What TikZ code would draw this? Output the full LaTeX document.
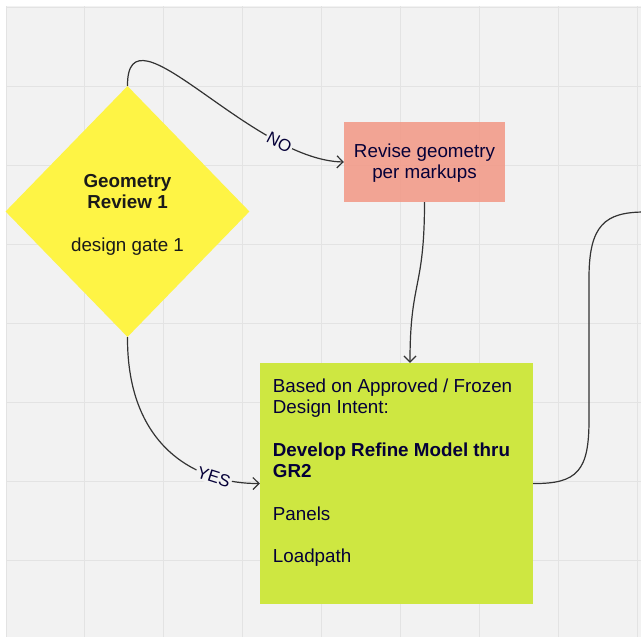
\documentclass[tikz,border=0pt]{standalone}
\usepackage{fontspec}
\setmainfont{Liberation Sans}
\usetikzlibrary{shapes.geometric,arrows.meta}
\definecolor{boardbg}{HTML}{F2F2F2}
\definecolor{boardline}{HTML}{E3E3E3}
\definecolor{gateyellow}{HTML}{FEF445}
\definecolor{revisered}{HTML}{F29C8A}
\definecolor{refinegreen}{HTML}{CEE741}
\definecolor{inkblue}{HTML}{050038}
\definecolor{inkgray}{HTML}{1A1A1A}
\definecolor{linkgray}{HTML}{333333}
\begin{document}
\begin{tikzpicture}[x=1pt, y=-1pt, font=\fontsize{18.8}{21.3}\selectfont,
  gate/.style={diamond, fill=gateyellow, aspect=1, inner sep=0pt, minimum width=244pt, minimum height=251pt, align=center, text=inkgray},
  revise/.style={rectangle, fill=revisered, fill opacity=0.9, text opacity=1, minimum width=161pt, minimum height=80pt, align=center, text=inkblue},
  refine/.style={rectangle, fill=refinegreen, minimum width=273pt, minimum height=241pt},
  link/.style={draw=linkgray, line width=1.2pt},
  flow/.style={link, -{Straight Barb[length=6pt, width=12pt]}},
  answer/.style={font=\fontsize{17}{17}\selectfont, text=inkblue, fill=boardbg, inner sep=1.5pt, sloped}]
\useasboundingbox (0,0) rectangle (641,637);
% board
\fill[white] (0,0) rectangle (641,637);
\fill[boardbg] (6,6) rectangle (641,637);
\foreach \gx in {0,...,8} \draw[boardline, line width=0.9pt] ({6+78.9*\gx},6) -- ({6+78.9*\gx},637);
\foreach \gy in {0,...,7} \draw[boardline, line width=0.9pt] (6,{7+79*\gy}) -- (641,{7+79*\gy});
% shapes
\node[gate] (gate) at (127.5,211.5) {\rule{0pt}{19pt}\textbf{Geometry}\\\textbf{Review 1}\\[21.3pt]design gate 1};
\node[revise] (revise) at (424.5,162) {\rule{0pt}{16.5pt}Revise geometry\\per markups};
\node[refine] (refine) at (396.5,483.5) {};
\node[anchor=north west, inner sep=0pt, align=left, text=inkblue] (refinetext) at (272.7,378.5) {Based on Approved / Frozen\\Design Intent:\\[21.3pt]\textbf{Develop Refine Model thru}\\\textbf{GR2}\\[21.3pt]Panels\\[21.3pt]Loadpath};
\coordinate (offpage) at (645,212);
% connectors
\draw[flow] (gate.north) .. controls (127,0) and (250,160) .. node[answer, pos=0.78] {NO} (revise.west);
\draw[flow] (gate.south) .. controls (127,450) and (200,484) .. node[answer, pos=0.75] {YES} (refine.west);
\draw[flow] (revise.south) .. controls (424.5,290) and (410,280) .. ([xshift=13.5pt]refine.north);
\draw[link] (refine.east) .. controls (578,484) and (589,470) .. (589,420) -- (589,278) .. controls (589,225) and (605,212) .. (offpage);
\end{tikzpicture}
\end{document}
